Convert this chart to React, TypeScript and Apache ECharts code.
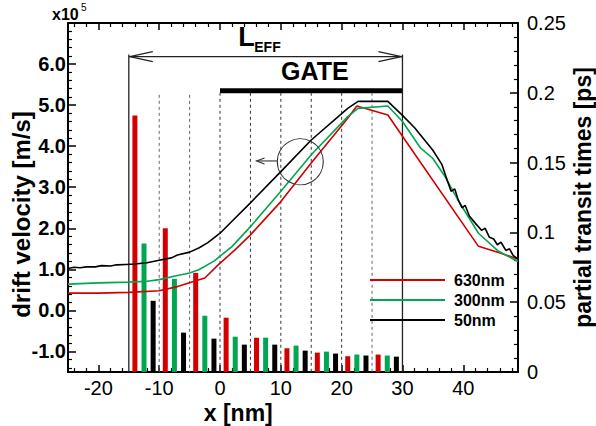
import React, { useEffect, useRef } from 'react';
import * as echarts from 'echarts';

const FONT = "'Liberation Sans', Arial, Helvetica, sans-serif";

// axis ticks
const X_MAJOR = [-20, -10, 0, 10, 20, 30, 40];
const X_MINOR = [-24, -22, -18, -16, -14, -12, -8, -6, -4, -2, 2, 4, 6, 8, 12, 14, 16, 18, 22, 24, 26, 28, 32, 34, 36, 38, 42, 44, 46, 48];
const Y_MAJOR = [-1, 0, 1, 2, 3, 4, 5, 6];
const Y_MINOR = [-1.4, -1.2, -0.8, -0.6, -0.4, -0.2, 0.2, 0.4, 0.6, 0.8, 1.2, 1.4, 1.6, 1.8, 2.2, 2.4, 2.6, 2.8, 3.2, 3.4, 3.6, 3.8, 4.2, 4.4, 4.6, 4.8, 5.2, 5.4, 5.6, 5.8, 6.2, 6.4, 6.6, 6.8];

// drift velocity curves [x nm, v x1e5 m/s]
const V_630: number[][] = [
  [-25, 0.42], [-20, 0.42], [-15, 0.44], [-10, 0.48], [-7, 0.58], [-2.5, 0.79], [-0.3, 1.11], [2.5, 1.48], [5, 1.84],
  [10, 2.65], [15, 3.59], [21, 4.68], [22.5, 4.98], [27.6, 4.76], [30, 4.24], [42.5, 1.56], [45.8, 1.41], [49, 1.25],
];
const V_300: number[][] = [
  [-25, 0.64], [-20, 0.67], [-15, 0.69], [-12, 0.71], [-10, 0.75], [-7, 0.85], [-5, 0.91], [-3.5, 0.99], [-1, 1.2],
  [2, 1.56], [5, 2.04], [10, 2.9], [15, 3.79], [21, 4.72], [22.7, 4.92], [27.6, 4.98], [30, 4.6], [33, 3.95],
  [35, 3.7], [37, 3.26], [39, 2.72], [42.5, 1.88], [45.8, 1.44], [49, 1.19],
];
const V_50: number[][] = [
  [-25, 1.02], [-24, 1.05], [-23, 1.04], [-22, 1.06], [-20.5, 1.06], [-19.5, 1.09], [-18, 1.08], [-17, 1.11], [-15.5, 1.12],
  [-14, 1.13], [-12, 1.16], [-10, 1.22], [-8, 1.28], [-7, 1.35], [-5, 1.42], [-3.5, 1.52], [-2, 1.65], [0, 1.88],
  [2.5, 2.25], [5, 2.62], [10, 3.38], [15, 4.15], [21, 4.92], [22.7, 5.09], [27.6, 5.09], [30, 4.75], [32, 4.45],
  [35, 3.9], [36.5, 3.55], [37.4, 3.15], [38, 2.9], [38.6, 2.96], [39.2, 2.68], [39.8, 2.5], [40.3, 2.56], [41, 2.3],
  [42, 2.12], [43, 1.95], [43.6, 2.0], [44.3, 1.78], [45, 1.74], [45.6, 1.6], [46.2, 1.66], [47, 1.46], [47.6, 1.5],
  [48.2, 1.34], [49, 1.25],
];

// partial transit times [ps] per 5 nm section
const BAR_X_630 = [-14, -9, -4, 1, 6, 11, 16, 21, 26];
const BAR_X_300 = [-12.5, -7.5, -2.5, 2.5, 7.5, 12.5, 17.5, 22.5, 27.5];
const BAR_X_50 = [-11, -6, -1, 4, 9, 14, 19, 24, 29];
const T_630 = [0.1837, 0.103, 0.071, 0.0389, 0.0246, 0.017, 0.0139, 0.0113, 0.0125];
const T_300 = [0.0921, 0.0667, 0.0403, 0.0253, 0.0246, 0.0189, 0.0146, 0.0125, 0.0118];
const T_50 = [0.051, 0.0282, 0.0239, 0.0196, 0.0196, 0.0153, 0.0132, 0.0118, 0.011];

// annotations (data units)
const DASHED_X = [-10, -5, 0, 5, 10, 15, 20, 25];
const LEFF_X = [-15, 30];
const LEFF_Y = 6.18;
const GATE_X = [0, 30];
const GATE_Y = 5.35;
const CIRCLE = [13.2, 3.62];
const SMALL_ARROW = [[9.4, 3.64], [6.0, 3.64]];
const X_TITLE_AT = 3.0; // x [nm] title centre, data units

const RED = '#d40000';
const GREEN = '#00a651';
const BLACK = '#000000';

const pairs = (xs: number[], ys: number[]) => xs.map((x, i) => [x, ys[i]]);

export default function App() {
  const ref = useRef<HTMLDivElement>(null);
  useEffect(() => {
    const chart = echarts.init(ref.current!, null, { renderer: 'svg' });
    const axisLine = { show: true, onZero: false, lineStyle: { color: '#000', width: 2 } };
    const noLine = { show: false, onZero: false };
    const xBase = { type: 'value', min: -25, max: 49, splitLine: { show: false } };
    const option: any = {
      animation: false,
      grid: { left: 68, right: 78, top: 23, bottom: 54, containLabel: false, outerBoundsMode: 'none' },
      legend: {
        orient: 'vertical', left: 365, top: 267, icon: 'rect', itemWidth: 75, itemHeight: 2, itemGap: 4,
        data: ['630nm', '300nm', '50nm'],
        textStyle: { fontSize: 16, fontWeight: 'bold', color: '#000', fontFamily: FONT, padding: [0, 0, 0, 4] },
      },
      xAxis: [
        {
          ...xBase, position: 'bottom', axisLine,
          axisTick: { inside: true, length: 7, customValues: X_MAJOR, lineStyle: { color: '#000', width: 1.5 } },
          axisLabel: { customValues: X_MAJOR, fontSize: 20, color: '#000', fontFamily: FONT, margin: 6 },
        },
        {
          ...xBase, position: 'bottom', axisLine: noLine,
          axisTick: { inside: true, length: 4, customValues: X_MINOR, lineStyle: { color: '#000', width: 1.2 } },
          axisLabel: { show: false },
        },
        {
          ...xBase, position: 'top', axisLine,
          axisTick: { inside: true, length: 7, customValues: X_MAJOR, lineStyle: { color: '#000', width: 1.5 } },
          axisLabel: { show: false },
        },
        {
          ...xBase, position: 'top', axisLine: noLine,
          axisTick: { inside: true, length: 4, customValues: X_MINOR, lineStyle: { color: '#000', width: 1.2 } },
          axisLabel: { show: false },
        },
      ],
      yAxis: [
        {
          type: 'value', min: -1.5, max: 7, position: 'left', axisLine, splitLine: { show: false },
          name: 'drift velocity [m/s]', nameLocation: 'middle', nameGap: 35, nameRotate: 90, nameMoveOverlap: false,
          nameTextStyle: { fontSize: 24, fontWeight: 'bold', color: '#000', fontFamily: FONT, padding: [0, 34, 0, 0] },
          axisTick: { inside: true, length: 8, customValues: Y_MAJOR, lineStyle: { color: '#000', width: 1.5 } },
          axisLabel: {
            customValues: Y_MAJOR, fontSize: 20, fontWeight: 'bold', color: '#000', fontFamily: FONT, margin: 2,
            formatter: (v: number) => v.toFixed(1),
          },
        },
        {
          type: 'value', min: 0, max: 0.25, interval: 0.05, position: 'right', axisLine, splitLine: { show: false },
          name: 'partial transit times [ps]', nameLocation: 'middle', nameGap: 53, nameRotate: 90, nameMoveOverlap: false,
          nameTextStyle: { fontSize: 23, fontWeight: 'bold', color: '#000', fontFamily: FONT },
          axisTick: { inside: true, length: 8, lineStyle: { color: '#000', width: 1.5 } },
          minorTick: { show: true, splitNumber: 5, length: 4, lineStyle: { color: '#000', width: 1.2 } },
          axisLabel: {
            fontSize: 20, color: '#000', fontFamily: FONT, margin: 9,
            formatter: (v: number) => String(+v.toFixed(2)),
          },
        },
        {
          type: 'value', min: -1.5, max: 7, position: 'left', axisLine: noLine, splitLine: { show: false },
          axisTick: { inside: true, length: 4, customValues: Y_MINOR, lineStyle: { color: '#000', width: 1.2 } },
          axisLabel: { show: false },
        },
      ],
      series: [
        { name: 't630', type: 'bar', yAxisIndex: 1, barWidth: 5, barGap: '-100%', color: RED, data: pairs(BAR_X_630, T_630) },
        { name: 't300', type: 'bar', yAxisIndex: 1, barWidth: 5, barGap: '-100%', color: GREEN, data: pairs(BAR_X_300, T_300) },
        { name: 't50', type: 'bar', yAxisIndex: 1, barWidth: 5, barGap: '-100%', color: BLACK, data: pairs(BAR_X_50, T_50) },
        { name: '630nm', type: 'line', color: RED, symbol: 'none', lineStyle: { width: 1.6, color: RED }, data: V_630, z: 3 },
        { name: '300nm', type: 'line', color: GREEN, symbol: 'none', lineStyle: { width: 1.6, color: GREEN }, data: V_300, z: 3 },
        { name: '50nm', type: 'line', color: BLACK, symbol: 'none', lineStyle: { width: 1.6, color: BLACK }, data: V_50, z: 3 },
      ],
    };
    chart.setOption(option);

    const P = (x: number, y: number) => chart.convertToPixel({ xAxisIndex: 0, yAxisIndex: 0 }, [x, y]) as number[];
    const g: any[] = [];
    DASHED_X.forEach((x) => {
      const a = P(x, x < 0 ? 5.25 : GATE_Y - 0.05);
      const b = P(x, -1.5);
      g.push({ type: 'line', z: 1, shape: { x1: a[0], y1: a[1], x2: b[0], y2: b[1] }, style: { stroke: x < 0 || x === 25 ? '#666' : '#333', lineWidth: 1, lineDash: [3, 3] } });
    });
    LEFF_X.forEach((x) => {
      const a = P(x, LEFF_Y + 0.05);
      const b = P(x, -1.5);
      g.push({ type: 'line', z: 1, shape: { x1: a[0], y1: a[1], x2: b[0], y2: b[1] }, style: { stroke: '#222', lineWidth: 1.3 } });
    });
    const l0 = P(LEFF_X[0], LEFF_Y);
    const l1 = P(LEFF_X[1], LEFF_Y);
    g.push({ type: 'line', shape: { x1: l0[0], y1: l0[1], x2: l1[0], y2: l1[1] }, style: { stroke: '#222', lineWidth: 1.2 } });
    g.push({ type: 'polyline', shape: { points: [[l0[0] + 24, l0[1] - 5], [l0[0] + 1, l0[1]], [l0[0] + 24, l0[1] + 5]] }, style: { stroke: '#222', lineWidth: 1.2, fill: null } });
    g.push({ type: 'polyline', shape: { points: [[l1[0] - 24, l1[1] - 5], [l1[0] - 1, l1[1]], [l1[0] - 24, l1[1] + 5]] }, style: { stroke: '#222', lineWidth: 1.2, fill: null } });
    // L_EFF label
    const lMid = P(3.0, LEFF_Y);
    g.push({ type: 'text', x: lMid[0], y: lMid[1] - 6, style: { text: 'L', font: `bold 27px ${FONT}`, fill: '#000', align: 'left', verticalAlign: 'bottom' } });
    g.push({ type: 'text', x: lMid[0] + 16, y: lMid[1] - 3, style: { text: 'EFF', font: `bold 14px ${FONT}`, fill: '#000', align: 'left', verticalAlign: 'bottom' } });
    // GATE bar + label
    const g0 = P(GATE_X[0], GATE_Y);
    const g1 = P(GATE_X[1], GATE_Y);
    g.push({ type: 'rect', shape: { x: g0[0], y: g0[1] - 2.5, width: g1[0] - g0[0], height: 5 }, style: { fill: '#000' } });
    const gm = P((GATE_X[0] + GATE_X[1]) / 2 + 0.6, GATE_Y);
    g.push({ type: 'text', x: gm[0], y: gm[1] - 7, style: { text: 'GATE', font: `bold 25px ${FONT}`, fill: '#000', align: 'center', verticalAlign: 'bottom' } });
    // circle + arrow
    const c = P(CIRCLE[0], CIRCLE[1]);
    g.push({ type: 'circle', z: 5, shape: { cx: c[0], cy: c[1], r: 23 }, style: { fill: null, stroke: '#333', lineWidth: 1.1 } });
    const s0 = P(SMALL_ARROW[0][0], SMALL_ARROW[0][1]);
    const s1 = P(SMALL_ARROW[1][0], SMALL_ARROW[1][1]);
    g.push({ type: 'line', z: 5, shape: { x1: s0[0], y1: s0[1], x2: s1[0], y2: s1[1] }, style: { stroke: '#333', lineWidth: 1.1 } });
    g.push({ type: 'polyline', z: 5, shape: { points: [[s1[0] + 8, s1[1] - 3], [s1[0], s1[1]], [s1[0] + 8, s1[1] + 3]] }, style: { stroke: '#333', lineWidth: 1.1, fill: null } });
    // x10^5 multiplier
    const corner = P(-25, 7);
    g.push({ type: 'text', x: corner[0] - 16, y: corner[1] - 1, style: { text: 'x10', font: `bold 16px ${FONT}`, fill: '#000', align: 'left', verticalAlign: 'bottom' } });
    g.push({ type: 'text', x: corner[0] + 13, y: corner[1] - 11, style: { text: '5', font: `10px ${FONT}`, fill: '#000', align: 'left', verticalAlign: 'bottom' } });
    // x-axis title
    const xt = P(X_TITLE_AT, -1.5);
    g.push({ type: 'text', x: xt[0], y: xt[1] + 29, style: { text: 'x [nm]', font: `bold 23px ${FONT}`, fill: '#000', align: 'center', verticalAlign: 'top' } });

    chart.setOption({ graphic: g });
    return () => chart.dispose();
  }, []);
  return <div ref={ref} style={{ position: 'absolute', left: 0, top: 0, width: 596, height: 426 }} />;
}
